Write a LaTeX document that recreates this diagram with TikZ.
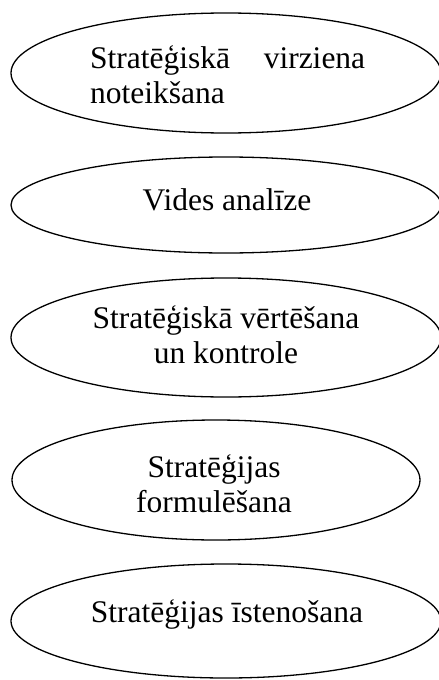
\documentclass[tikz,border=0pt]{standalone}
\usepackage{fontspec}
\setmainfont{Liberation Serif}
\usetikzlibrary{shapes.geometric}

\tikzset{
  oval/.style={ellipse, draw=black, line width=1.3pt, inner sep=0pt},
  txt/.style={inner sep=0pt, anchor=base, align=center,
    font=\fontsize{31.5}{35}\selectfont},
}

\begin{document}
\begin{tikzpicture}[x=1pt, y=-1pt]
  \useasboundingbox (0,0) rectangle (439,680);

  % the five stages, top to bottom
  \node[oval, minimum width=430pt, minimum height=120pt] (e1) at (226,73) {};
  \node[oval, minimum width=430pt, minimum height=96pt]  (e2) at (226,205) {};
  \node[oval, minimum width=430pt, minimum height=119pt] (e3) at (226,337.5) {};
  \node[oval, minimum width=408pt, minimum height=120pt] (e4) at (216,480) {};
  \node[oval, minimum width=430pt, minimum height=114pt] (e5) at (226,621) {};

  % labels (base anchor = baseline of the last line)
  \node[txt, anchor=base west, align=left] (t1) at (90,103)
        {\hbox to 275pt{Stratēģiskā\hfill virziena}\\noteikšana};
  \node[txt] (t2) at (227,210) {Vides analīze};
  \node[txt] (t3) at (226,363) {Stratēģiskā vērtēšana\\un kontrole};
  \node[txt] (t4) at (214,512) {Stratēģijas\\formulēšana};
  \node[txt] (t5) at (227,622) {Stratēģijas īstenošana};
\end{tikzpicture}
\end{document}
